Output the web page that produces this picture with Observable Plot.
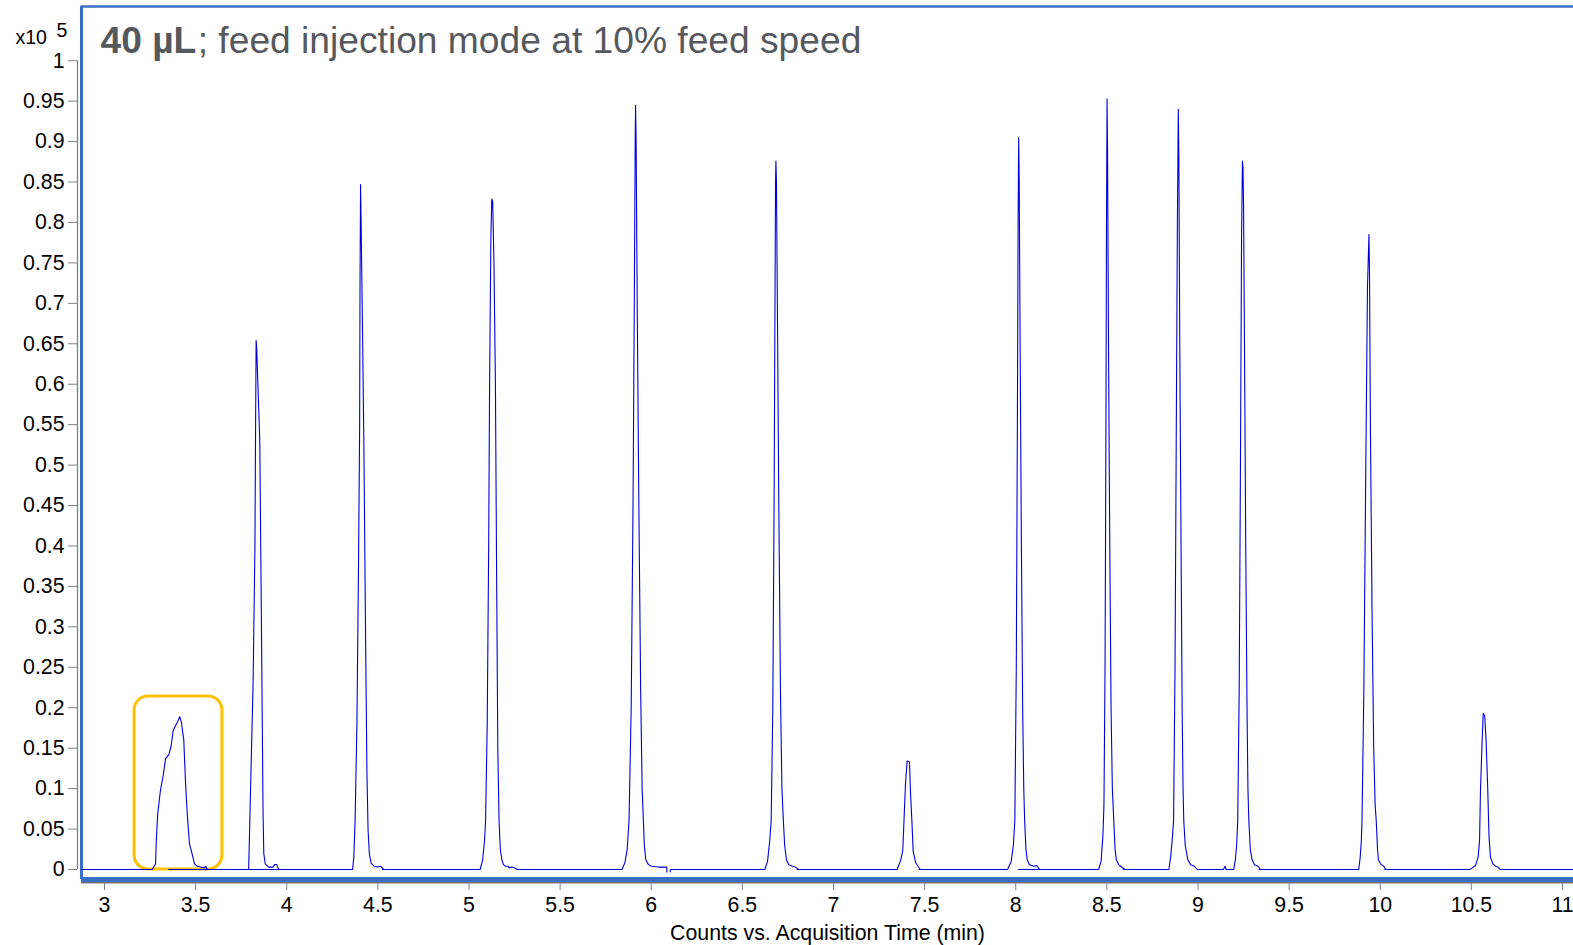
<!DOCTYPE html>
<html>
<head>
<meta charset="utf-8">
<script src="https://cdn.jsdelivr.net/npm/d3@7"></script>
<script src="https://cdn.jsdelivr.net/npm/@observablehq/plot@0.6"></script>
<style>
  html, body { margin: 0; padding: 0; background: #fff; }
  #chart { position: relative; width: 1573px; height: 945px; overflow: hidden; }
</style>
</head>
<body>
<div id="chart"></div>
<script>
// ---- data (time in min, counts x10^5) ----
const seg1 = [[2.874,0],[3.262,0],[3.280,0.007],[3.285,0.040],[3.292,0.069],[3.307,0.098],[3.322,0.116],[3.335,0.137],[3.353,0.142],[3.366,0.153],[3.377,0.172],[3.390,0.178],[3.402,0.183],[3.413,0.189],[3.422,0.182],[3.435,0.160],[3.444,0.110],[3.454,0.069],[3.466,0.032],[3.481,0.019],[3.494,0.007],[3.509,0.004],[3.527,0.003],[3.545,0.002],[3.556,0.004],[3.560,0.001],[3.572,0]];
const seg2 = [[3.353,0],[3.791,0],[3.8155,0.233],[3.8255,0.40],[3.8285,0.53],[3.832,0.654],[3.835,0.645],[3.852,0.53],[3.860,0.33],[3.865,0.20],[3.870,0.07],[3.874,0.02],[3.882,0.007],[3.900,0.003],[3.925,0.003],[3.932,0.006],[3.945,0.006],[3.952,0.002],[3.960,0]];
const seg3 = [[3.791,0],[4.361,0],[4.368,0.015],[4.375,0.06],[4.385,0.18],[4.394,0.38],[4.400,0.55],[4.402,0.72],[4.405,0.847],[4.408,0.80],[4.415,0.68],[4.423,0.53],[4.432,0.30],[4.440,0.12],[4.446,0.05],[4.453,0.02],[4.463,0.008],[4.480,0.004],[4.500,0.003],[4.515,0.004],[4.532,0]];
const seg4 = [[4.525,0],[5.061,0],[5.075,0.012],[5.085,0.035],[5.091,0.06],[5.100,0.18],[5.108,0.40],[5.113,0.60],[5.120,0.78],[5.125,0.829],[5.130,0.826],[5.137,0.75],[5.145,0.60],[5.152,0.35],[5.158,0.15],[5.165,0.06],[5.172,0.025],[5.180,0.012],[5.189,0.006],[5.200,0.004],[5.215,0.004],[5.220,0.002],[5.235,0.003],[5.250,0.002],[5.267,0]];
const seg5 = [[5.260,0],[5.839,0],[5.855,0.008],[5.868,0.025],[5.878,0.06],[5.890,0.20],[5.900,0.45],[5.907,0.70],[5.912,0.90],[5.914,0.945],[5.917,0.90],[5.923,0.70],[5.932,0.45],[5.942,0.22],[5.950,0.10],[5.957,0.06],[5.962,0.03],[5.970,0.012],[5.985,0.006],[6.000,0.004],[6.040,0.003],[6.085,0.003],[6.086,-0.003]];
const seg6 = [[6.104,-0.003],[6.105,0],[6.623,0],[6.638,0.01],[6.650,0.035],[6.658,0.06],[6.667,0.20],[6.674,0.45],[6.679,0.70],[6.682,0.85],[6.684,0.876],[6.687,0.85],[6.692,0.70],[6.700,0.45],[6.709,0.22],[6.717,0.10],[6.725,0.06],[6.732,0.03],[6.742,0.012],[6.755,0.006],[6.775,0.004],[6.790,0.003],[6.809,0]];
const seg7 = [[6.800,0],[7.349,0],[7.368,0.011],[7.380,0.023],[7.386,0.056],[7.395,0.106],[7.404,0.134],[7.408,0.134],[7.417,0.133],[7.422,0.098],[7.431,0.056],[7.437,0.023],[7.450,0.009],[7.463,0.004],[7.477,0]];
const seg8 = [[7.470,0],[7.955,0],[7.975,0.01],[7.987,0.03],[7.995,0.06],[8.003,0.25],[8.009,0.55],[8.013,0.80],[8.016,0.905],[8.019,0.85],[8.024,0.65],[8.031,0.40],[8.038,0.20],[8.044,0.10],[8.049,0.06],[8.056,0.025],[8.063,0.012],[8.075,0.006],[8.100,0.004],[8.115,0.005],[8.131,0]];
const seg9 = [[8.015,0],[8.455,0],[8.468,0.01],[8.478,0.04],[8.484,0.08],[8.490,0.25],[8.495,0.55],[8.498,0.80],[8.501,0.953],[8.504,0.88],[8.509,0.65],[8.516,0.40],[8.523,0.20],[8.530,0.10],[8.538,0.06],[8.545,0.025],[8.552,0.012],[8.565,0.006],[8.575,0.004],[8.600,0]];
const seg10 = [[8.590,0],[8.840,0],[8.850,0.015],[8.858,0.035],[8.866,0.06],[8.874,0.25],[8.881,0.55],[8.887,0.80],[8.892,0.940],[8.895,0.88],[8.900,0.65],[8.907,0.40],[8.913,0.20],[8.918,0.10],[8.922,0.06],[8.930,0.03],[8.944,0.012],[8.960,0.006],[8.980,0.004],[8.996,0],[9.140,0]];
const seg11 = [[9.140,0],[9.148,0.004],[9.155,0],[9.196,0],[9.205,0.012],[9.212,0.03],[9.218,0.06],[9.226,0.22],[9.233,0.50],[9.239,0.78],[9.244,0.876],[9.247,0.868],[9.250,0.82],[9.255,0.65],[9.262,0.40],[9.269,0.20],[9.274,0.10],[9.279,0.06],[9.287,0.025],[9.297,0.012],[9.310,0.006],[9.330,0.004],[9.343,0]];
const seg12 = [[9.335,0],[9.882,0],[9.890,0.015],[9.896,0.035],[9.900,0.06],[9.910,0.22],[9.920,0.48],[9.930,0.72],[9.938,0.785],[9.941,0.74],[9.946,0.55],[9.955,0.32],[9.964,0.15],[9.972,0.08],[9.978,0.06],[9.985,0.025],[9.990,0.012],[10.005,0.006],[10.020,0.004],[10.030,0]];
const seg13 = [[10.025,0],[10.490,0],[10.505,0.002],[10.523,0.005],[10.537,0.015],[10.545,0.036],[10.550,0.098],[10.559,0.159],[10.565,0.193],[10.573,0.190],[10.581,0.159],[10.590,0.098],[10.597,0.040],[10.605,0.015],[10.618,0.007],[10.633,0.004],[10.647,0.003],[10.657,0],[11.060,0]];

const xTicks = [3, 3.5, 4, 4.5, 5, 5.5, 6, 6.5, 7, 7.5, 8, 8.5, 9, 9.5, 10, 10.5, 11];
const yTicks = [0, 0.05, 0.1, 0.15, 0.2, 0.25, 0.3, 0.35, 0.4, 0.45, 0.5, 0.55, 0.6, 0.65, 0.7, 0.75, 0.8, 0.85, 0.9, 0.95, 1];
const highlight = [{x1: 3.165, x2: 3.647, y1: 0, y2: 0.214}];

const titleBold = "40 µL";
const titleRest = "; feed injection mode at 10% feed speed";
const xLabel = "Counts vs. Acquisition Time (min)";
const yUnit = "x10";
const yExp = "5";

// ---- build ----
const segments = [seg1, seg2, seg3, seg4, seg5, seg6, seg7, seg8, seg9, seg10, seg11, seg12, seg13];
const trace = segments.flatMap((s, i) => s.map(([t, v]) => ({t, v, seg: i})));

const xDomain = [2.8738, 11.0604];
const yDomain = [-0.01236, 1.067];
const frameBlue = "#3a6fc6";
const font = "'Liberation Sans', Arial, Helvetica, sans-serif";

const chart = Plot.plot({
  width: 1573,
  height: 945,
  marginLeft: 81,
  marginRight: 0,
  marginTop: 6,
  marginBottom: 66,
  x: {domain: xDomain},
  y: {domain: yDomain},
  style: {fontFamily: font, fontSize: "21px", color: "#000", background: "#fff", overflow: "visible"},
  marks: [
    // frame
    Plot.ruleY([yDomain[1]], {stroke: frameBlue, strokeWidth: 2.6}),
    Plot.ruleX([xDomain[0]], {stroke: frameBlue, strokeWidth: 3}),
    Plot.ruleY([yDomain[0]], {stroke: frameBlue, strokeWidth: 5}),
    Plot.ruleY([yDomain[0]], {dy: 3.3, stroke: "#333", strokeWidth: 1}),
    // highlight box
    Plot.rect(highlight, {x1: "x1", x2: "x2", y1: "y1", y2: "y2", fill: "none", stroke: "#ffc000", strokeWidth: 3, rx: 14}),
    // chromatogram trace
    Plot.line(trace, {x: "t", y: "v", z: "seg", stroke: "#0000dd", strokeWidth: 1.1, curve: "linear"}),
    // y axis
    Plot.ruleX([xDomain[0]], {y1: 0, y2: 1, dx: -4, stroke: "#808080", strokeWidth: 1.3}),
    Plot.axisY({ticks: yTicks, tickSize: 9, tickPadding: 4, dx: -4, stroke: "#808080", tickFormat: d => String(+d.toFixed(2)), label: null, fontSize: 21.3}),
    // x axis
    Plot.axisX({ticks: xTicks, tickSize: 8, tickPadding: 6, dy: 3, stroke: "#808080", tickFormat: d => String(d), label: null, fontSize: 21.3}),
    Plot.text([xLabel], {frameAnchor: "bottom", dy: 60, fontSize: 21.3, text: d => d}),
    // title inside frame
    Plot.text([titleBold], {frameAnchor: "top-left", textAnchor: "start", lineAnchor: "bottom", dx: 19, dy: 46, fontSize: 37.2, fontWeight: "bold", fill: "#55585d", text: d => d}),
    Plot.text([titleRest], {frameAnchor: "top-left", textAnchor: "start", lineAnchor: "bottom", dx: 116.2, dy: 46, fontSize: 37.2, fill: "#55585d", text: d => d}),
    // exponent label
    Plot.text([yUnit], {frameAnchor: "top-left", textAnchor: "start", lineAnchor: "bottom", dx: -66, dy: 37, fontSize: 19.5, text: d => d}),
    Plot.text([yExp], {frameAnchor: "top-left", textAnchor: "start", lineAnchor: "bottom", dx: -25, dy: 30, fontSize: 19.5, text: d => d})
  ]
});
document.getElementById("chart").appendChild(chart);
</script>
</body>
</html>
